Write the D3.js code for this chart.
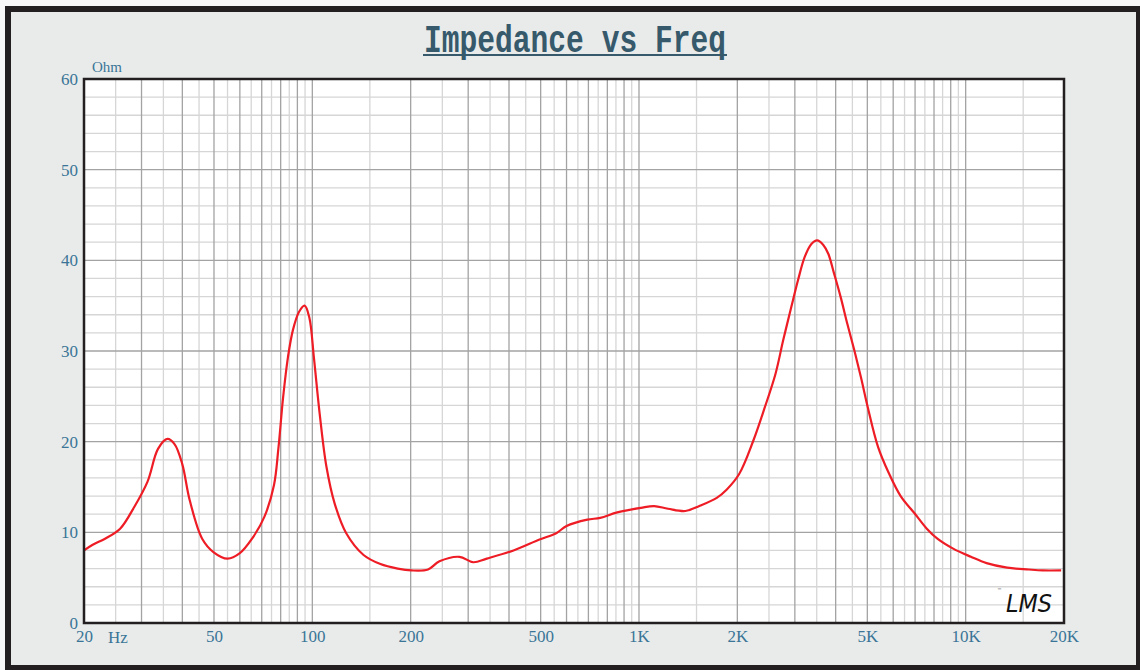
<!DOCTYPE html>
<html><head><meta charset="utf-8">
<script src="https://cdn.jsdelivr.net/npm/d3@7"></script>
<style>html,body{margin:0;padding:0;background:#f7f7f7;}svg{display:block;}</style>
</head><body>
<script>
// ---- data ----
const freqs = [20,21.2,23.2,25.8,28.5,31.3,33.7,36.0,37.9,40,42.1,46.0,49.9,55.0,60,65.4,71.3,76.3,78.7,81.4,84.2,87.2,91.0,94.7,97.9,101.1,105.3,110.5,117,127,143.5,161.6,182.6,201,226,245,282,311,342,413,496,558,600,695,761,858,1013,1113,1227,1387,1530,1730,1854,2024,2238,2428,2618,2764,2928,3067,3218,3371,3510,3666,3800,3944,4140,4342,4560,4780,5015,5395,5806,6324,6974,7604,8193,9156,10379,11590,13400,15600,17200,19600];
const ohms  = [8.0,8.6,9.3,10.4,12.8,15.6,19.2,20.3,19.7,17.5,13.6,9.3,7.8,7.1,7.7,9.3,11.7,15.2,19.2,24.9,29.3,32.3,34.3,35.0,33.7,29.3,23.1,17.2,13.2,9.9,7.5,6.5,6.0,5.8,5.9,6.8,7.3,6.7,7.1,8.0,9.2,9.9,10.7,11.4,11.6,12.2,12.7,12.9,12.6,12.35,12.9,13.8,14.7,16.4,20.1,23.8,27.5,31.2,34.9,37.8,40.4,41.8,42.2,41.7,40.7,38.7,36.0,33.0,30.1,27.1,23.8,19.4,16.6,14.0,12.1,10.4,9.3,8.2,7.3,6.6,6.1,5.9,5.8,5.8];
const xTickValues = [20,50,100,200,500,1000,2000,5000,10000,20000];
const xTickLabels = ["20","50","100","200","500","1K","2K","5K","10K","20K"];
const yTickValues = [0,10,20,30,40,50,60];
const title = "Impedance vs Freq";

const W = 1140, H = 670;
const M = {left:84, top:79, right:1064, bottom:623};
const svg = d3.select("body").append("svg").attr("width",W).attr("height",H);

// frame
svg.append("rect").attr("x",8).attr("y",9).attr("width",1131).attr("height",659)
  .attr("fill","#e9ebea").attr("stroke","#231f20").attr("stroke-width",6);

const x = d3.scaleLog().domain([20,20000]).range([M.left,M.right]);
const y = d3.scaleLinear().domain([0,60]).range([M.bottom,M.top]);

svg.append("rect").attr("x",M.left).attr("y",M.top).attr("width",M.right-M.left).attr("height",M.bottom-M.top).attr("fill","#ffffff");

// grid lines
const g = svg.append("g");
const vMinor = [], vMajor = [];
[10,100,1000,10000].forEach(d => {
  for (let k=1;k<10;k++){
    const v = k*d, h = (k+0.5)*d;
    if (v>20 && v<20000) vMajor.push(v);
    if (h>20 && h<20000) vMinor.push(h);
  }
});
const hMinor = d3.range(2,60,2).filter(v=>v%10!==0), hMajor = [10,20,30,40,50];
g.selectAll(".vmin").data(vMinor).join("line").attr("x1",d=>x(d)).attr("x2",d=>x(d)).attr("y1",M.top).attr("y2",M.bottom).attr("stroke","#d6d6d6").attr("stroke-width",1.3);
g.selectAll(".hmin").data(hMinor).join("line").attr("x1",M.left).attr("x2",M.right).attr("y1",d=>y(d)).attr("y2",d=>y(d)).attr("stroke","#d6d6d6").attr("stroke-width",1.3);
g.selectAll(".vmaj").data(vMajor).join("line").attr("x1",d=>x(d)).attr("x2",d=>x(d)).attr("y1",M.top).attr("y2",M.bottom).attr("stroke","#a3a3a3").attr("stroke-width",1.3);
g.selectAll(".hmaj").data(hMajor).join("line").attr("x1",M.left).attr("x2",M.right).attr("y1",d=>y(d)).attr("y2",d=>y(d)).attr("stroke","#a3a3a3").attr("stroke-width",1.3);

// curve
const pts = freqs.map((f,i)=>[f,ohms[i]]);
svg.append("path").datum(pts)
  .attr("d", d3.line().x(d=>x(d[0])).y(d=>y(d[1])).curve(d3.curveCatmullRom.alpha(0.5)))
  .attr("fill","none").attr("stroke","#ee1c25").attr("stroke-width",2.2).attr("stroke-linejoin","round");

// plot border
svg.append("rect").attr("x",M.left).attr("y",M.top).attr("width",M.right-M.left).attr("height",M.bottom-M.top)
  .attr("fill","none").attr("stroke","#231f20").attr("stroke-width",2.5);

// axes labels via d3 axes (styled)
const labColor = "#3a7597";
const font = "'Liberation Serif', serif";
const yAxis = svg.append("g").attr("transform",`translate(${M.left-6},0)`)
  .call(d3.axisLeft(y).tickValues(yTickValues).tickSize(0).tickPadding(0));
yAxis.select(".domain").remove();
yAxis.selectAll("text").attr("fill",labColor).style("font-family",font).style("font-size","17px");

const xAxis = svg.append("g").attr("transform",`translate(0,${M.bottom+7})`)
  .call(d3.axisBottom(x).tickValues(xTickValues).tickFormat((d,i)=>xTickLabels[i]).tickSize(0).tickPadding(0));
xAxis.select(".domain").remove();
xAxis.selectAll("text").attr("fill",labColor).style("font-family",font).style("font-size","17px");

svg.append("text").attr("x",108).attr("y",643).text("Hz").attr("fill",labColor).style("font-family",font).style("font-size","17px");
svg.append("text").attr("x",92).attr("y",72).text("Ohm").attr("fill",labColor).style("font-family",font).style("font-size","15px");

// title
svg.append("text").attr("x",424).attr("y",52).text(title)
  .attr("textLength",302).attr("lengthAdjust","spacingAndGlyphs")
  .attr("fill","#36596b").style("font-family","'Liberation Mono', monospace").style("font-weight","bold").style("font-size","38px");
svg.append("line").attr("x1",423).attr("x2",727).attr("y1",55).attr("y2",55).attr("stroke","#36596b").attr("stroke-width",2.2);

// LMS logo
svg.append("text").attr("x",1006).attr("y",612).text("LMS")
  .attr("textLength",46).attr("lengthAdjust","spacingAndGlyphs")
  .attr("fill","#111").style("font-family","'DejaVu Sans', sans-serif").style("font-style","italic").style("font-size","25px");
svg.append("text").attr("x",997).attr("y",592).text("™").attr("fill","#555").style("font-family","'DejaVu Sans'").style("font-size","5px");
</script>
</body></html>
